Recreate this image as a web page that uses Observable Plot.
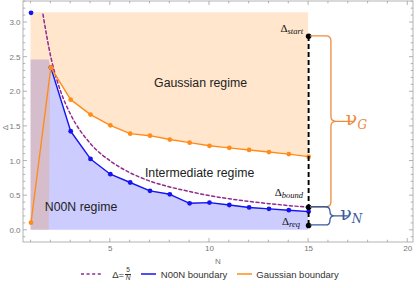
<!DOCTYPE html>
<html><head><meta charset="utf-8">
<script src="https://cdn.jsdelivr.net/npm/d3@7"></script>
<script src="https://cdn.jsdelivr.net/npm/@observablehq/plot@0.6"></script>
<style>
html,body{margin:0;padding:0;background:#fff;}
body{width:416px;height:288px;overflow:hidden;font-family:"Liberation Sans",Arial,sans-serif;}
#legend{display:flex;justify-content:center;align-items:center;height:16px;font-size:9.5px;color:#333;margin-left:4px;}
#legend .item{display:flex;align-items:center;}
.frac{display:inline-flex;flex-direction:column;align-items:center;font-size:6.5px;line-height:6.5px;margin-left:1px;}
.frac .num{border-bottom:0.7px solid #333;padding:0 1px;}
.frac .den{font-style:italic;}
</style></head><body>
<div id="chart"></div>
<div id="legend"></div>
<script>
// ---- data ----
const N = [1,2,3,4,5,6,7,8,9,10,11,12,13,14,15];
const noonBoundary  = [3.14, 2.35, 1.43, 1.03, 0.81, 0.69, 0.57, 0.52, 0.39, 0.40, 0.365, 0.33, 0.31, 0.29, 0.27];
const gaussBoundary = [0.11, 2.35, 1.886, 1.67, 1.515, 1.395, 1.366, 1.31, 1.265, 1.22, 1.19, 1.16, 1.13, 1.10, 1.063];
const curveN     = [1.6, 2, 2.5, 3, 4, 5, 6, 7, 8, 9, 10, 11, 12, 13, 14, 15];
const curveDelta = [3.12, 2.5, 2.0, 1.67, 1.25, 1.0, 0.83, 0.71, 0.625, 0.56, 0.5, 0.455, 0.417, 0.385, 0.357, 0.333];
const regionN        = [1, 1.92, 2, 3, 4, 5, 6, 7, 8, 9, 10, 11, 12, 13, 14, 15];
const gaussRegionLow = [0, 0, 2.35, 1.886, 1.67, 1.515, 1.395, 1.366, 1.31, 1.265, 1.22, 1.19, 1.16, 1.13, 1.10, 1.063];
const noonRegionHigh = [2.46, 2.46, 2.35, 1.43, 1.03, 0.81, 0.69, 0.57, 0.52, 0.39, 0.40, 0.365, 0.33, 0.31, 0.29, 0.27];
const regionTop = 3.14;
const markerN = 15;
const deltaNames  = ["start", "bound", "req"];
const deltaValues = [2.80, 0.333, 0.07];
const braceNames  = ["G", "N"];
const braceTop    = [2.80, 0.333];
const braceBottom = [0.333, 0.07];
const braceEdgeN  = [16.15, 16.1];
const braceTipN   = [17.26, 17.0];
const regimeNames = ["Gaussian regime", "Intermediate regime", "N00N regime"];
const regimeN     = [9.55, 9.5, 3.52];
const regimeDelta = [2.13, 0.83, 0.33];
const xTicks = [5, 10, 15, 20];
const yTicks = [0, 0.5, 1.0, 1.5, 2.0, 2.5, 3.0];
const xMinor = d3.range(1, 21, 1);
const yMinor = d3.range(-1, 34, 1).map(d => d / 10);
const legendLabels = ["Δ=5/N", "N00N boundary", "Gaussian boundary"];

// ---- styles ----
const BLUE = "#1414f0", ORANGE = "#ff8c1a", PURPLE = "#8f2a8f", FRAME = "#a0a0a0";
const braceColors = ["#ee8a3c", "#3a5a9c"];

function frameMark(index, scales, values, dims) {
  const {x, y} = scales;
  const x0 = dims.marginLeft, x1 = dims.width - dims.marginRight;
  const y0 = dims.marginTop, y1 = dims.height - dims.marginBottom;
  const g = d3.create("svg:g").attr("fill", "none").attr("stroke", FRAME).attr("stroke-width", 0.8);
  g.append("rect").attr("x", x0).attr("y", y0).attr("width", x1 - x0).attr("height", y1 - y0);
  const major = 4, minor = 2.3;
  for (const t of xMinor) {
    const px = x(t), len = xTicks.includes(t) ? major : minor;
    g.append("line").attr("x1", px).attr("x2", px).attr("y1", y1).attr("y2", y1 - len);
    g.append("line").attr("x1", px).attr("x2", px).attr("y1", y0).attr("y2", y0 + len);
  }
  for (const t of yMinor) {
    const py = y(t);
    if (py < y0 || py > y1) continue;
    const len = yTicks.some(v => Math.abs(v - t) < 1e-9) ? major : minor;
    g.append("line").attr("y1", py).attr("y2", py).attr("x1", x0).attr("x2", x0 + len);
    g.append("line").attr("y1", py).attr("y2", py).attr("x1", x1).attr("x2", x1 - len);
  }
  const t = d3.create("svg:g").attr("fill", "#777").attr("font-size", 8).attr("font-family", "Liberation Sans, Arial, sans-serif");
  t.append("text").attr("x", (x0 + x1) / 2).attr("y", y1 + 22).attr("text-anchor", "middle").text("N");
  t.append("text").attr("transform", `translate(${8},${(y0 + y1) / 2 + 6}) rotate(-90)`).attr("text-anchor", "middle").text("Δ");
  const wrap = d3.create("svg:g");
  wrap.append(() => g.node());
  wrap.append(() => t.node());
  return wrap.node();
}

function annotationMark(index, scales) {
  const {x, y} = scales;
  const g = d3.create("svg:g");
  // braces
  braceNames.forEach((name, i) => {
    const xa = x(markerN) + 2, xe = x(braceEdgeN[i]), xt = x(braceTipN[i]);
    const ya = y(braceTop[i]), yb = y(braceBottom[i]), ym = (ya + yb) / 2;
    const r = Math.min(5, (yb - ya) / 4);
    const path = `M${xa},${ya} L${xe - r},${ya} Q${xe},${ya} ${xe},${ya + r} L${xe},${ym - r} Q${xe},${ym} ${xe + r},${ym} L${xt},${ym}` +
                 ` M${xe + r},${ym} Q${xe},${ym} ${xe},${ym + r} L${xe},${yb - r} Q${xe},${yb} ${xe - r},${yb} L${xa},${yb}`;
    g.append("path").attr("d", path).attr("fill", "none").attr("stroke", braceColors[i]).attr("stroke-width", 1.3);
    const tx = g.append("text").attr("x", xt + 3.5).attr("y", ym + 4).attr("fill", braceColors[i])
      .attr("font-family", "DejaVu Serif, Liberation Serif, serif");
    tx.append("tspan").attr("font-size", 19).text("ν");
    tx.append("tspan").attr("font-size", 12).attr("font-style", "italic").attr("dy", 3.5).text(name);
  });
  // Delta labels
  const offs = [[-5, -4], [-5, -11], [-8, 0]];
  deltaNames.forEach((name, i) => {
    const tx = g.append("text").attr("x", x(markerN) + offs[i][0]).attr("y", y(deltaValues[i]) + offs[i][1])
      .attr("text-anchor", "end").attr("fill", "#111").attr("font-family", "Liberation Serif, DejaVu Serif, serif");
    tx.append("tspan").attr("font-size", 11).text("Δ");
    tx.append("tspan").attr("font-size", 8.5).attr("font-style", "italic").attr("dy", 2.5).text(name);
  });
  return g.node();
}

const chart = Plot.plot({
  width: 416, height: 266,
  marginLeft: 23, marginRight: 3, marginTop: 1, marginBottom: 24,
  style: {fontFamily: "Liberation Sans, Arial, sans-serif", background: "white", overflow: "visible"},
  x: {domain: [0.62, 20.29], label: null},
  y: {domain: [-0.176, 3.303], label: null},
  marks: [
    Plot.areaY(regionN, {x: regionN, y1: 0, y2: noonRegionHigh, fill: "#0000ff", fillOpacity: 0.2}),
    Plot.areaY(regionN, {x: regionN, y1: gaussRegionLow, y2: regionTop, fill: "#ff8000", fillOpacity: 0.2}),
    Plot.line(curveN, {x: curveN, y: curveDelta, stroke: PURPLE, strokeWidth: 1.5, strokeDasharray: "3,2.6", curve: "monotone-x"}),
    Plot.line(N, {x: N, y: noonBoundary, filter: (d, i) => i > 0, stroke: BLUE, strokeWidth: 1.4}),
    Plot.dot(N, {x: N, y: noonBoundary, r: 2.4, fill: BLUE}),
    Plot.line(N, {x: N, y: gaussBoundary, stroke: ORANGE, strokeWidth: 1.4}),
    Plot.dot(N, {x: N, y: gaussBoundary, r: 2.4, fill: ORANGE}),
    Plot.ruleX([markerN], {y1: deltaValues[2], y2: deltaValues[0], stroke: "black", strokeWidth: 1.9, strokeDasharray: "5,3"}),
    Plot.dot(deltaValues, {x: markerN, y: d => d, r: 2.8, fill: "black"}),
    Plot.text(regimeNames, {x: regimeN, y: regimeDelta, text: d => d, fontSize: 12.3, fill: "#222"}),
    annotationMark,
    frameMark,
    Plot.axisX({ticks: xTicks, tickSize: 0, tickPadding: 3, label: null, fontSize: 8, color: "#777"}),
    Plot.axisY({ticks: yTicks, tickSize: 0, tickPadding: 3, label: null, fontSize: 8, color: "#777", tickFormat: d3.format(".1f")})
  ]
});
document.getElementById("chart").appendChild(chart);

// ---- legend ----
const legend = d3.select("#legend");
const swatches = [
  {color: PURPLE, dash: "3,2.6", w: 22, gapAfter: 9},
  {color: BLUE, dash: null, w: 15, gapAfter: 5},
  {color: ORANGE, dash: null, w: 15, gapAfter: 4}
];
legendLabels.forEach((lab, i) => {
  const it = legend.append("span").attr("class", "item").style("margin-right", i < 2 ? "10px" : "0");
  const s = swatches[i];
  const svg = it.append("svg").attr("width", s.w).attr("height", 6).style("margin-right", s.gapAfter + "px");
  svg.append("line").attr("x1", 0).attr("x2", s.w).attr("y1", 3).attr("y2", 3)
    .attr("stroke", s.color).attr("stroke-width", 1.5).attr("stroke-dasharray", s.dash);
  if (i === 0) {
    const [lhs, frac] = lab.split("=");
    it.append("span").text(lhs + "=");
    const f = it.append("span").attr("class", "frac");
    const [num, den] = frac.split("/");
    f.append("span").attr("class", "num").text(num);
    f.append("span").attr("class", "den").text(den);
  } else {
    it.append("span").text(lab);
  }
});
</script>
</body></html>
